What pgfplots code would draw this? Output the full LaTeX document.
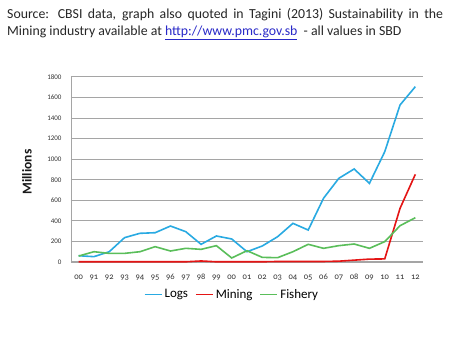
\documentclass[border=0pt]{standalone}
\usepackage{fontspec}
\setmainfont{Carlito}
\newfontfamily\oldnum{Carlito}[Numbers=OldStyle]
\usepackage{pgfplots}
\pgfplotsset{compat=1.18}
\definecolor{logs}{RGB}{41,170,226}
\definecolor{mining}{RGB}{228,20,20}
\definecolor{fish}{RGB}{90,190,90}
\definecolor{gridc}{RGB}{165,165,165}
\definecolor{linkc}{RGB}{40,40,200}
\begin{document}
\begin{tikzpicture}[x=1pt,y=1pt]
\path[fill=white] (0,0) rectangle (467,340);
\node[anchor=north west, inner sep=0pt, text width=436pt, align=justify, font=\fontsize{13.8}{17}\selectfont, text=black!85] at (7,332)
{Source: CBSI data, graph also quoted in Tagini (2013) Sustainability in the\linebreak Mining industry available at {\color{linkc}\underline{http://www.pmc.gov.sb}}\ \ - all values in SBD};
\node[rotate=90, font=\bfseries\fontsize{13.5}{14}\selectfont, text=black!90] at (27,168) {Millions};
\begin{axis}[
  at={(71pt,78pt)}, anchor=south west,
  scale only axis, width=352pt, height=185pt,
  xmin=-0.5, xmax=22.5, ymin=0, ymax=1800,
  ytick={0,200,...,1800},
  xtick={0,...,22},
  xticklabels={00,91,92,93,94,95,96,97,98,99,00,01,02,03,04,05,06,07,08,09,10,11,12},
  x tick label style={font=\oldnum\fontsize{8.5}{9}\selectfont, text=black!80},
  y tick label style={font=\fontsize{7}{7}\selectfont, text=black!80},
  /pgf/number format/assume math mode=true,
  /pgf/number format/1000 sep={},
  ymajorgrids, grid style={gridc, line width=1pt},
  axis x line*=bottom, axis y line*=left,
  axis line style={gridc, line width=0.8pt},
  major tick length=0pt,
  xticklabel shift=9pt, yticklabel shift=6pt,
  legend style={at={(232pt-71pt,-23pt)}, anchor=north, draw=none, fill=none, legend columns=3, font=\fontsize{13}{14}\selectfont, column sep=0pt, /tikz/every even column/.append style={column sep=5pt}},
  legend cell align=left,
  clip=false,
]
\addplot[logs, line width=1.6pt] coordinates {
(0,61)(1,52)(2,100)(3,237)(4,279)(5,285)(6,350)(7,295)(8,172)(9,253)(10,224)
(11,100)(12,156)(13,246)(14,376)(15,311)(16,620)(17,814)(18,905)(19,765)(20,1073)(21,1528)(22,1706)};
\addplot[mining, line width=1.6pt] coordinates {
(0,2)(1,2)(2,2)(3,2)(4,2)(5,2)(6,2)(7,2)(8,10)(9,2)(10,2)
(11,2)(12,2)(13,5)(14,5)(15,5)(16,5)(17,8)(18,18)(19,28)(20,30)(21,522)(22,853)};
\addplot[fish, line width=1.6pt] coordinates {
(0,58)(1,100)(2,84)(3,84)(4,100)(5,149)(6,107)(7,133)(8,123)(9,159)(10,39)
(11,110)(12,45)(13,42)(14,100)(15,172)(16,133)(17,159)(18,175)(19,133)(20,198)(21,353)(22,431)};
\addlegendimage{logs, line width=1.6pt, legend image code/.code={\draw[logs, line width=1.6pt] (0pt,0pt) -- (13pt,0pt);}}
\addlegendentry{Logs}
\addlegendimage{mining, line width=1.6pt, legend image code/.code={\draw[mining, line width=1.6pt] (0pt,0pt) -- (13pt,0pt);}}
\addlegendentry{Mining}
\addlegendimage{fish, line width=1.6pt, legend image code/.code={\draw[fish, line width=1.6pt] (0pt,0pt) -- (13pt,0pt);}}
\addlegendentry{Fishery}
\end{axis}
\end{tikzpicture}
\end{document}
